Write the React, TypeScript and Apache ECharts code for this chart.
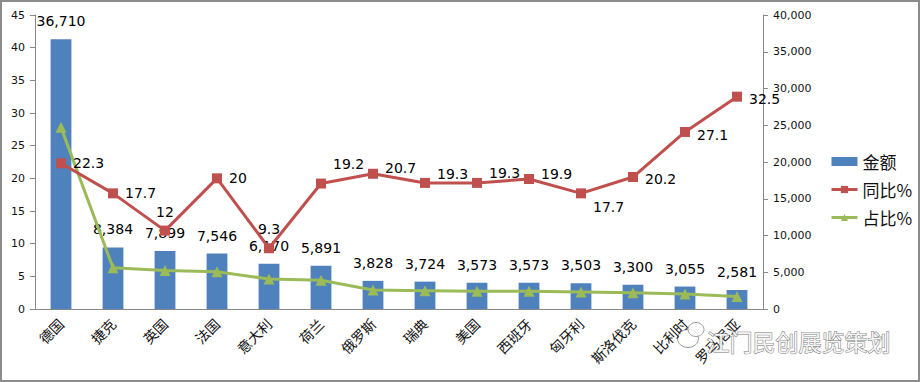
import React, { useEffect, useRef } from "react";
import * as echarts from "echarts";

const categories = ["德国", "捷克", "英国", "法国", "意大利", "荷兰", "俄罗斯", "瑞典", "美国", "西班牙", "匈牙利", "斯洛伐克", "比利时", "罗马尼亚"];
const amount = [36710, 8384, 7899, 7546, 6170, 5891, 3828, 3724, 3573, 3573, 3503, 3300, 3055, 2581];
const yoy = [22.3, 17.7, 12, 20, 9.3, 19.2, 20.7, 19.3, 19.3, 19.9, 17.7, 20.2, 27.1, 32.5];
const share = [27.8, 6.3, 5.9, 5.7, 4.6, 4.4, 2.9, 2.8, 2.7, 2.7, 2.6, 2.5, 2.3, 1.9];
const leftTicks = { min: 0, max: 45, interval: 5 };
const rightTicks = { min: 0, max: 40000, interval: 5000 };

// label placement styles for the 同比% series (not data)
const yoyLabelPos = ["right", "right", "top", "right", "top", "right", "right", "right", "right", "right", "right", "right", "right", "right"];
const yoyLabelOffset = [[0, 0], [0, 0], [0, 0], [0, 0], [0, 0], [0, -20], [0, -6], [0, -9], [0, -10], [0, -5], [0, 14], [0, 2], [0, 3], [0, 2]];

const fmt = (v: number) => v.toLocaleString("en-US");
const numFont = "DejaVu Sans";

export default function App() {
  const ref = useRef<HTMLDivElement>(null);
  useEffect(() => {
    if (!ref.current) return;
    const chart = echarts.init(ref.current, undefined, { renderer: "svg" });
    chart.setOption({
      animation: false,
      backgroundColor: "#fff",
      textStyle: { fontFamily: numFont },
      grid: { left: 35, right: 157, top: 15, bottom: 73 },
      legend: {
        orient: "vertical",
        left: 825,
        top: 148,
        itemGap: 11,
        itemWidth: 26,
        itemHeight: 9,
        lineStyle: { width: 3 },
        textStyle: { fontFamily: "Noto Sans CJK SC", fontSize: 17, color: "#111" },
        data: [
          { name: "金额", icon: "rect" },
          { name: "同比%" },
          { name: "占比%" },
        ],
      },
      xAxis: {
        type: "category",
        data: categories,
        axisLine: { lineStyle: { color: "#888" } },
        axisTick: { lineStyle: { color: "#888" }, length: 5 },
        axisLabel: {
          rotate: 45,
          interval: 0,
          fontFamily: "Noto Sans CJK SC",
          fontSize: 14,
          color: "#111",
          margin: 12,
        },
      },
      yAxis: [
        {
          type: "value",
          position: "left",
          ...leftTicks,
          splitLine: { show: false },
          axisLine: { show: true, lineStyle: { color: "#888" } },
          axisTick: { show: true, inside: false, length: 5, lineStyle: { color: "#888" } },
          axisLabel: { fontSize: 11, color: "#111", margin: 10 },
        },
        {
          type: "value",
          position: "right",
          ...rightTicks,
          splitLine: { show: false },
          axisLine: { show: true, lineStyle: { color: "#888" } },
          axisTick: { show: true, length: 5, lineStyle: { color: "#888" } },
          axisLabel: { fontSize: 11, color: "#111", margin: 10, formatter: (v: number) => fmt(v) },
        },
      ],
      series: [
        {
          name: "金额",
          type: "bar",
          yAxisIndex: 1,
          data: amount,
          barWidth: "40%",
          itemStyle: { color: "#4F81BD" },
          label: {
            show: true,
            position: "top",
            distance: 11,
            fontSize: 14,
            color: "#000",
            formatter: (p: any) => fmt(p.value),
          },
          z: 1,
        },
        {
          name: "同比%",
          type: "line",
          yAxisIndex: 0,
          data: yoy.map((v, i) => ({
            value: v,
            label: { position: yoyLabelPos[i], offset: yoyLabelOffset[i] },
          })),
          symbol: "rect",
          symbolSize: 10,
          lineStyle: { color: "#C0504D", width: 3 },
          itemStyle: { color: "#C0504D" },
          label: { show: true, fontSize: 14, color: "#000", distance: 7 },
          z: 3,
        },
        {
          name: "占比%",
          type: "line",
          yAxisIndex: 0,
          data: share,
          symbol: "triangle",
          symbolSize: 11,
          lineStyle: { color: "#9BBB59", width: 3 },
          itemStyle: { color: "#9BBB59" },
          z: 2,
        },
      ],
      graphic: [
        {
          type: "rect",
          shape: { x: 1, y: 1, width: 918, height: 380 },
          style: { fill: "none", stroke: "#8c8c8c", lineWidth: 2 },
          silent: true,
        },
        {
          type: "group",
          left: 677,
          top: 322,
          z: 10,
          children: [
            { type: "ellipse", shape: { cx: 11, cy: 19, rx: 10.5, ry: 9 }, style: { fill: "rgba(255,255,255,0.75)", stroke: "#999", lineWidth: 1 } },
            { type: "ellipse", shape: { cx: 19, cy: 10, rx: 8, ry: 7 }, style: { fill: "rgba(255,255,255,0.75)", stroke: "#999", lineWidth: 1 } },
          ],
        },
        {
          type: "text",
          left: 706,
          top: 329,
          z: 10,
          style: {
            text: "江门民创展览策划",
            fontFamily: "Noto Sans CJK SC",
            fontSize: 23,
            fill: "#f4f4f4",
            stroke: "#777",
            lineWidth: 1,
          },
        },
      ],
    });
    return () => chart.dispose();
  }, []);
  return <div ref={ref} style={{ position: "fixed", left: 0, top: 0, width: 920, height: 382 }} />;
}
